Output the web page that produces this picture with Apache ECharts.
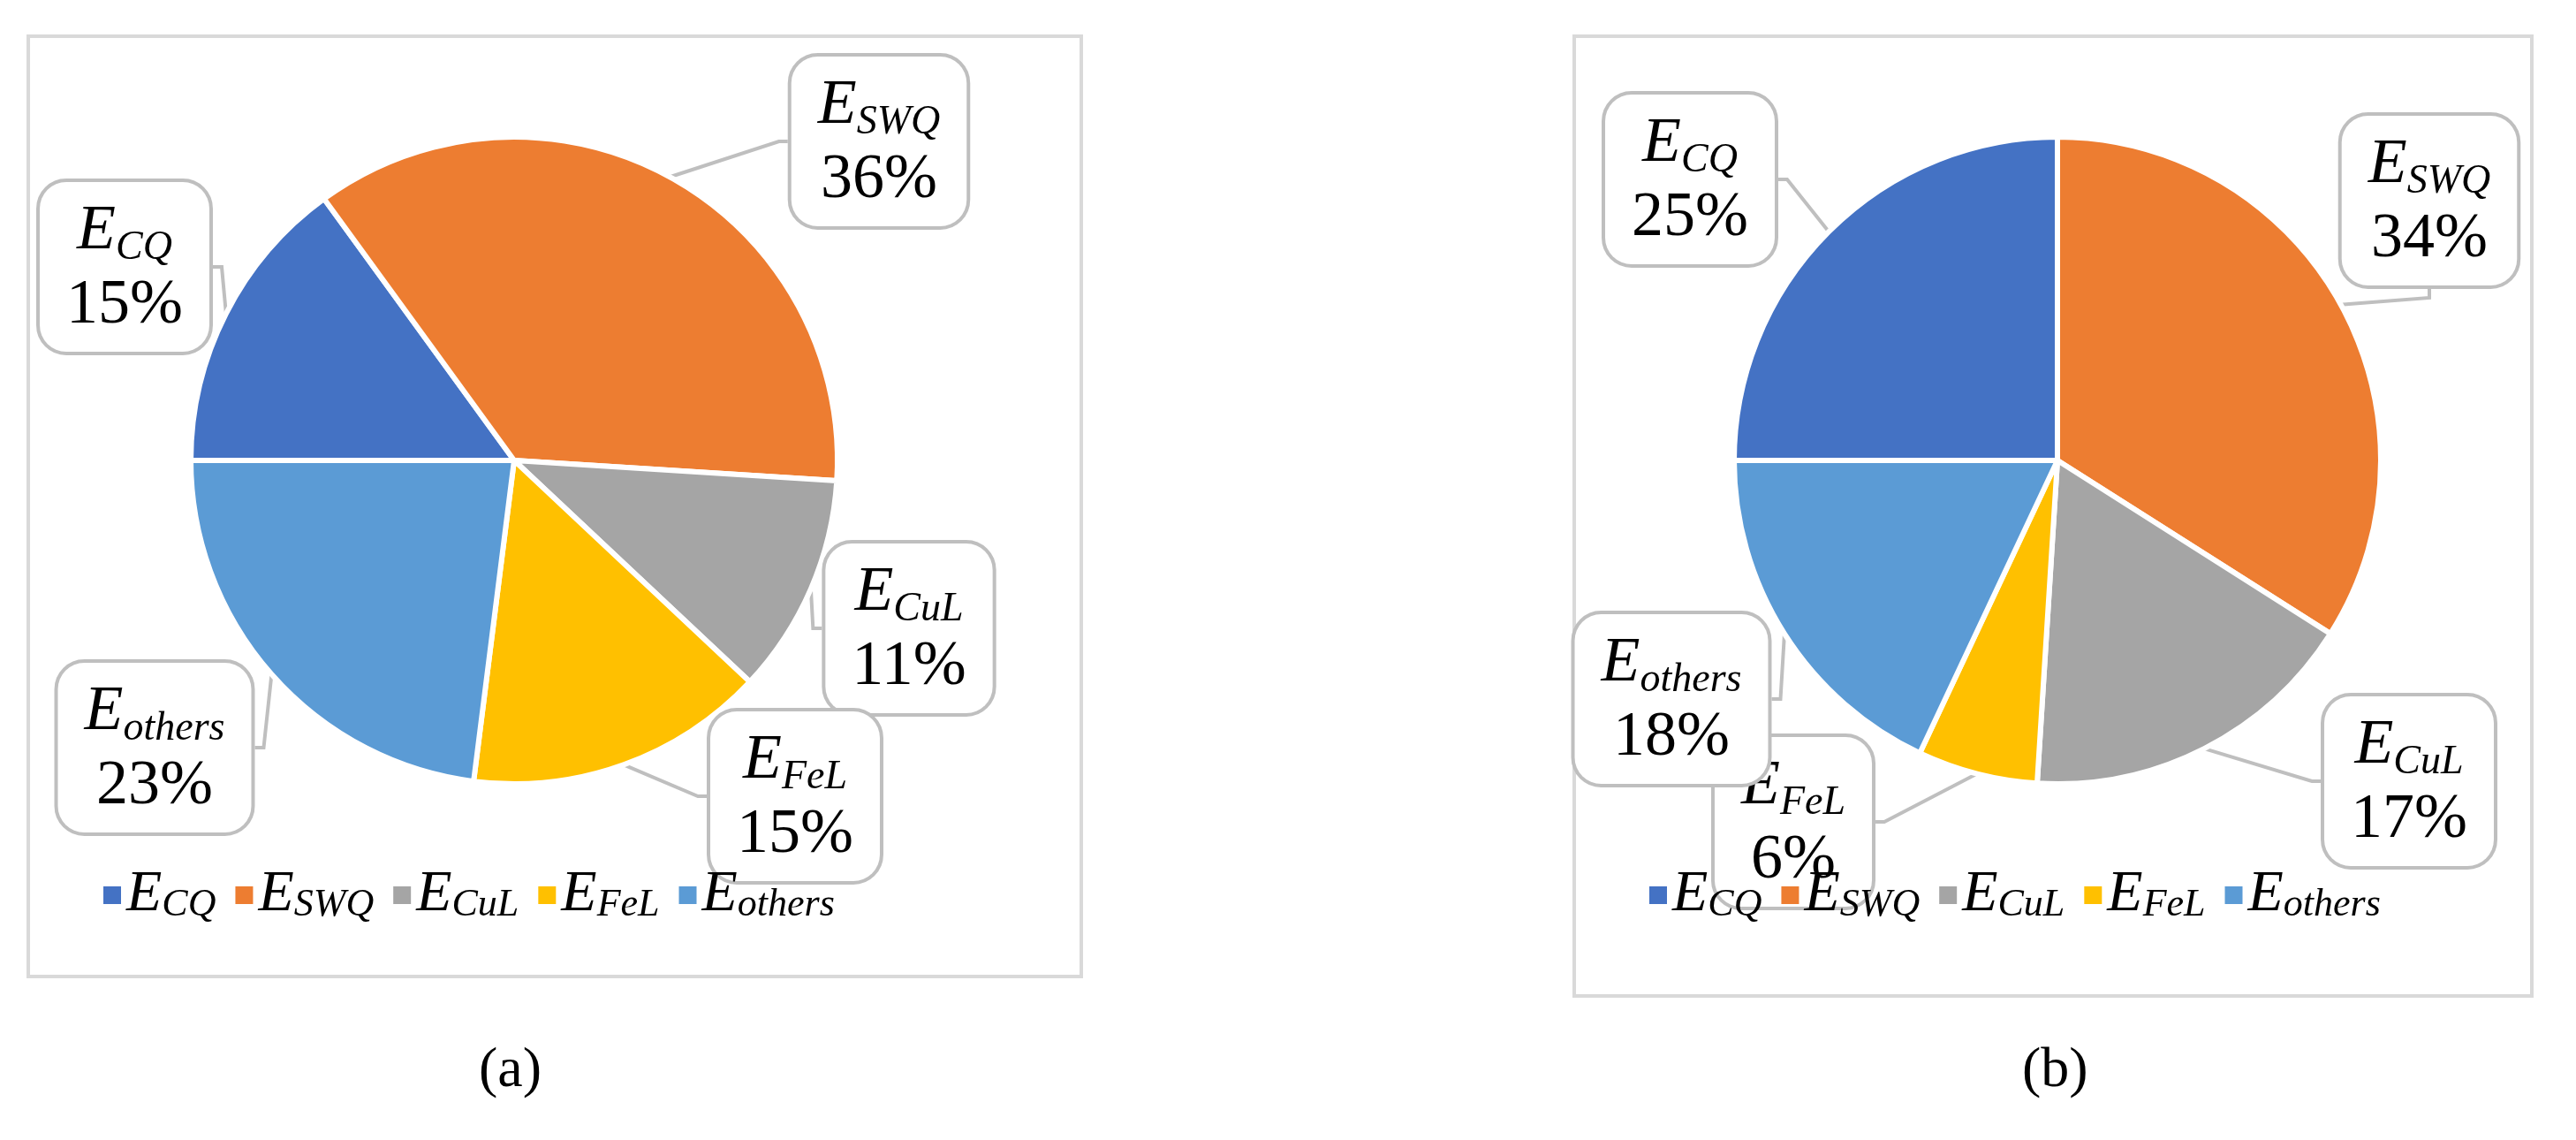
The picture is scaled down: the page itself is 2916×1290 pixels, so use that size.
<!DOCTYPE html>
<html lang="en">
<head>
    <meta charset="UTF-8">
    <title>Energy share</title>
    <script src="https://cdn.jsdelivr.net/npm/echarts@6/dist/echarts.min.js"></script>
    <style>
        * { padding: 0; margin: 0; }
        body { background: #fff; }
        #chart { width: 2916px; height: 1290px; }
    </style>
</head>
<body>
    <div id="chart"></div>
<script>
    // categories and shares (%)
    var categories = ['ECQ', 'ESWQ', 'ECuL', 'EFeL', 'Eothers'];
    var subs = ['CQ', 'SWQ', 'CuL', 'FeL', 'others'];
    var valuesA = [15, 36, 11, 15, 23];
    var valuesB = [25, 34, 17, 6, 18];
    var panelTitles = ['a', 'b'];

    var colors = ['#4472C4', '#ED7D31', '#A5A5A5', '#FFC000', '#5B9BD5'];
    var font = '"Liberation Serif", "DejaVu Serif", serif';

    // label box centres per panel (pixels)
    var labelPos = [
        [[141, 302], [995, 160], [1029, 711], [900, 901], [175, 846]],
        [[1913, 203], [2750, 227], [2727, 884], [2030, 930], [1892, 791]]
    ];

    var rich = {
        e: { fontFamily: font, fontStyle: 'italic', fontSize: 72, color: '#000', padding: [0, 0, 0, 0] },
        s: { fontFamily: font, fontStyle: 'italic', fontSize: 46, color: '#000', verticalAlign: 'bottom', padding: [0, 0, 0, 0] },
        p: { fontFamily: font, fontSize: 72, color: '#000', align: 'center', lineHeight: 84 }
    };

    function makeData(vals) {
        return categories.map(function (c, i) {
            return { name: c, value: vals[i], itemStyle: { color: colors[i] } };
        });
    }

    function pieSeries(vals, center, idx) {
        return {
            type: 'pie',
            radius: 366,
            center: center,
            startAngle: 180,
            clockwise: true,
            avoidLabelOverlap: false,
            itemStyle: { borderColor: '#fff', borderWidth: 6 },
            data: makeData(vals),
            label: {
                show: true,
                position: 'outside',
                formatter: function (p) {
                    return '{e|E}{s|' + subs[p.dataIndex] + '}\n{p|' + p.value + '%}';
                },
                rich: rich,
                lineHeight: 84,
                backgroundColor: '#fff',
                borderColor: '#bfbfbf',
                borderWidth: 4,
                borderRadius: 30,
                padding: [14, 30, 10, 30]
            },
            labelLine: { show: true, length: 20, length2: 10, lineStyle: { color: '#bfbfbf', width: 4 } },
            labelLayout: function (params) {
                var pos = labelPos[idx][params.dataIndex];
                return { x: pos[0], y: pos[1], align: 'center', verticalAlign: 'middle' };
            },
            emphasis: { disabled: true }
        };
    }

    function legendFor(left) {
        return {
            data: categories,
            left: left,
            top: 975,
            itemWidth: 22,
            itemHeight: 22,
            itemGap: 20,
            icon: 'rect',
            formatter: function (name) {
                return '{e|E}{s|' + subs[categories.indexOf(name)] + '}';
            },
            textStyle: {
                rich: {
                    e: { fontFamily: font, fontStyle: 'italic', fontSize: 66, color: '#000' },
                    s: { fontFamily: font, fontStyle: 'italic', fontSize: 44, color: '#000', verticalAlign: 'bottom' }
                }
            }
        };
    }

    var chart = echarts.init(document.getElementById('chart'));
    chart.setOption({
        animation: false,
        backgroundColor: '#fff',
        graphic: [
            { type: 'rect', shape: { x: 32, y: 41, width: 1192, height: 1064 }, style: { fill: 'none', stroke: '#d9d9d9', lineWidth: 4 }, z: -1 },
            { type: 'rect', shape: { x: 1782, y: 41, width: 1084, height: 1086 }, style: { fill: 'none', stroke: '#d9d9d9', lineWidth: 4 }, z: -1 },
            { type: 'text', left: 582 - 40, top: 1180, style: { text: '(' + panelTitles[0] + ')', font: '64px ' + font, fill: '#000', rich: {} } },
            { type: 'text', left: 2329 - 40, top: 1180, style: { text: '(' + panelTitles[1] + ')', font: '64px ' + font, fill: '#000' } }
        ],
        legend: [legendFor(110), legendFor(1860)],
        series: [
            pieSeries(valuesA, [582, 521], 0),
            pieSeries(valuesB, [2329, 521], 1)
        ]
    });
</script>
</body>
</html>
